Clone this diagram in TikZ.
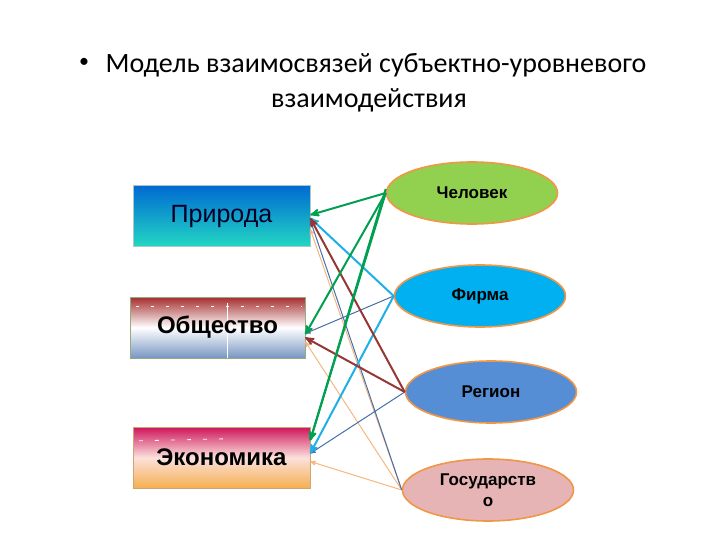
\documentclass[tikz,border=0pt]{standalone}
\usepackage{fontspec}
\setmainfont{Liberation Sans}
\newfontfamily\titlefont{Carlito}
\usepackage{tikz}
\usetikzlibrary{arrows,shapes.geometric}

\definecolor{gline}{RGB}{0,160,80}
\definecolor{bline}{RGB}{30,175,230}
\definecolor{rline}{RGB}{149,55,53}
\definecolor{sline}{RGB}{70,110,170}
\definecolor{pline}{RGB}{246,182,128}
\definecolor{rimorange}{RGB}{240,150,70}

\begin{document}
\begin{tikzpicture}[x=1pt,y=-1pt,>=stealth',
    box/.style={rectangle, minimum width=177pt, minimum height=61pt, inner sep=0pt},
    oval/.style={ellipse, draw=rimorange, line width=1.6pt, minimum width=171pt, minimum height=62pt, inner sep=0pt, align=center, font=\fontsize{17}{21}\selectfont\bfseries},
    thickarr/.style={->, line width=2pt},
    thinarr/.style={->, line width=1pt}]

  \useasboundingbox (0,0) rectangle (720,540);

  % title
  \node (bullet) at (84,63) {\titlefont\fontsize{20}{24}\selectfont •};
  \node (title1) at (376,65) {\titlefont\fontsize{28}{32}\selectfont Модель взаимосвязей субъектно-уровневого};
  \node (title2) at (369,100) {\titlefont\fontsize{28}{32}\selectfont взаимодействия};

  % left boxes
  \node[box, top color={rgb,255:red,0;green,105;blue,210}, bottom color={rgb,255:red,35;green,215;blue,195}, draw={rgb,255:red,170;green,200;blue,200}] (priroda) at (221.5,216) {\fontsize{25}{28}\selectfont\textcolor{black!85!blue}{Природа}};
  \node[box, minimum width=175pt, top color={rgb,255:red,165;green,45;blue,45}, bottom color={rgb,255:red,120;green,150;blue,195}, middle color=white, draw={rgb,255:red,150;green,170;blue,130}] (obsh) at (217.5,327.5) {};
  \node[box, top color={rgb,255:red,205;green,20;blue,90}, bottom color={rgb,255:red,245;green,175;blue,80}, middle color={rgb,255:red,252;green,225;blue,220}, draw={rgb,255:red,205;green,165;blue,115}] (ekon) at (221.5,457.5) {};

  % decoration on the boxes
  \draw[white, line width=0.8pt, dash pattern=on 3pt off 12pt] ([xshift=6pt,yshift=-10pt]obsh.north west) -- ([xshift=-4pt,yshift=-10pt]obsh.north east);
  \draw[white, line width=0.6pt] ([xshift=10pt,yshift=-6pt]obsh.north) -- ([xshift=10pt]obsh.south);
  \draw[white, line width=0.8pt, dash pattern=on 4pt off 12pt] ([xshift=6pt,yshift=-14pt]ekon.north west) -- ([xshift=-85pt,yshift=-12pt]ekon.north east);
  \node[font=\fontsize{24}{28}\selectfont\bfseries] at (obsh) {Общество};
  \node[font=\fontsize{24}{28}\selectfont\bfseries] at (ekon) {Экономика};

  % right ovals
  \node[oval, fill={rgb,255:red,146;green,208;blue,80}] (chel) at (472,193) {Человек};
  \node[oval, fill={rgb,255:red,0;green,176;blue,240}] (firma) at (480,296) {Фирма};
  \node[oval, fill={rgb,255:red,85;green,142;blue,213}] (region) at (491,392) {Регион};
  \node[oval, fill={rgb,255:red,230;green,180;blue,180}] (gos) at (488,490) {Государств\\о};

  \foreach \from/\to/\dy/\st/\col in {gos/priroda/-13/thinarr/pline, gos/obsh/-14/thinarr/pline, gos/ekon/-4/thinarr/pline,
                                      gos/priroda/-4/thinarr/sline, firma/obsh/-6/thinarr/sline, region/ekon/4/thinarr/sline,
                                      firma/priroda/-2/thickarr/bline, firma/ekon/4/thickarr/bline,
                                      region/priroda/-2/thickarr/rline, region/obsh/-10/thickarr/rline,
                                      chel/priroda/1/thickarr/gline, chel/obsh/-7/thickarr/gline, chel/ekon/17/thickarr/gline}
     \draw[style=\st, draw=\col] (\from.west) -- ([yshift=\dy pt]\to.east);
  \draw[thickarr, draw=gline] ([yshift=4pt]chel.west) -- ([yshift=17pt]ekon.east);

\end{tikzpicture}
\end{document}
